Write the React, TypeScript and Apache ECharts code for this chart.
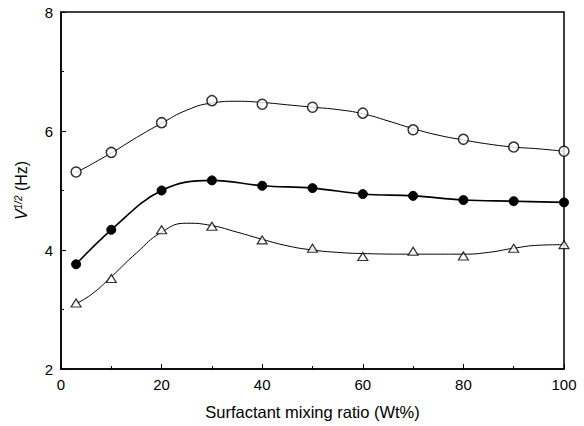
import React, { useEffect, useRef } from "react";
import * as echarts from "echarts";

const xValues = [3, 10, 20, 30, 40, 50, 60, 70, 80, 90, 100];
const openCircle = [5.31, 5.64, 6.14, 6.51, 6.45, 6.4, 6.3, 6.02, 5.86, 5.73, 5.66];
const filledCircle = [3.76, 4.34, 5.0, 5.17, 5.08, 5.04, 4.94, 4.91, 4.84, 4.82, 4.8];
const triangle = [3.11, 3.52, 4.34, 4.4, 4.17, 4.03, 3.89, 3.98, 3.9, 4.03, 4.09];

// fitted curves
const openFitX = [3, 10, 15, 20, 25, 30, 35, 40, 45, 50, 55, 60, 65, 70, 75, 80, 85, 90, 95, 100];
const openFitY = [5.3, 5.63, 5.89, 6.13, 6.35, 6.47, 6.5, 6.48, 6.44, 6.4, 6.36, 6.29, 6.17, 6.04, 5.93, 5.85, 5.78, 5.73, 5.7, 5.66];
const triFitX = [3, 6, 10, 15, 20, 25, 30, 35, 40, 45, 50, 55, 60, 70, 80, 85, 90, 95, 100];
const triFitY = [3.1, 3.25, 3.55, 3.95, 4.3, 4.45, 4.41, 4.3, 4.18, 4.07, 4.0, 3.96, 3.94, 3.93, 3.93, 3.96, 4.03, 4.08, 4.09];

const xTicks = [0, 20, 40, 60, 80, 100];
const yTicks = [2, 4, 6, 8];

const FONT = "Liberation Sans";

export default function App() {
  const ref = useRef<HTMLDivElement>(null);
  useEffect(() => {
    if (!ref.current) return;
    const chart = echarts.init(ref.current, undefined, { renderer: "svg" });
    const pairs = (xs: number[], ys: number[]) => xs.map((x, i) => [x, ys[i]]);
    chart.setOption({
      animation: false,
      backgroundColor: "#fff",
      grid: {
        left: 61,
        top: 12,
        right: 20,
        bottom: 57,
        show: true,
        borderColor: "#000",
        borderWidth: 1.5,
        backgroundColor: "transparent",
      },
      xAxis: {
        type: "value",
        min: xTicks[0],
        max: xTicks[xTicks.length - 1],
        interval: 20,
        name: "Surfactant mixing ratio (Wt%)",
        nameLocation: "middle",
        nameGap: 34,
        nameTextStyle: { fontFamily: FONT, fontSize: 16.5, color: "#000" },
        axisLine: { lineStyle: { color: "#000", width: 1.5 } },
        axisTick: { inside: true, length: 5, lineStyle: { color: "#000", width: 1 } },
        minorTick: { show: true, splitNumber: 2, length: 3, lineStyle: { color: "#000", width: 1 } },
        splitLine: { show: false },
        axisLabel: { fontFamily: FONT, fontSize: 15, color: "#000", margin: 8 },
      },
      yAxis: {
        type: "value",
        min: yTicks[0],
        max: yTicks[yTicks.length - 1],
        interval: 2,
        name: "{i|V}{s|1/2} (Hz)",
        nameLocation: "middle",
        nameRotate: 90,
        nameGap: 31,
        nameTextStyle: {
          fontFamily: FONT,
          fontSize: 16,
          color: "#000",
          rich: {
            i: { fontFamily: FONT, fontSize: 16, fontStyle: "italic", color: "#000" },
            s: { fontFamily: FONT, fontSize: 10, fontStyle: "italic", color: "#000", verticalAlign: "top", padding: [0, 0, 7, 0] },
          },
        },
        axisLine: { lineStyle: { color: "#000", width: 1.5 } },
        axisTick: { inside: true, length: 5, lineStyle: { color: "#000", width: 1 } },
        minorTick: { show: true, splitNumber: 2, length: 3, lineStyle: { color: "#000", width: 1 } },
        splitLine: { show: false },
        axisLabel: { fontFamily: FONT, fontSize: 15, color: "#000", margin: 8 },
      },
      series: [
        {
          type: "line",
          data: pairs(openFitX, openFitY),
          smooth: 0.5,
          showSymbol: false,
          symbol: "none",
          lineStyle: { color: "#000", width: 1 },
          z: 2,
        },
        {
          type: "scatter",
          data: pairs(xValues, openCircle),
          symbol: "circle",
          symbolSize: 10,
          itemStyle: { color: "#fff", borderColor: "#000", borderWidth: 1.5 },
          z: 4,
        },
        {
          type: "line",
          data: pairs(xValues, filledCircle),
          smooth: 0.4,
          symbol: "circle",
          symbolSize: 9,
          itemStyle: { color: "#000", borderColor: "#000", borderWidth: 1 },
          lineStyle: { color: "#000", width: 1.6 },
          z: 3,
        },
        {
          type: "line",
          data: pairs(triFitX, triFitY),
          smooth: 0.5,
          showSymbol: false,
          symbol: "none",
          lineStyle: { color: "#000", width: 1 },
          z: 2,
        },
        {
          type: "scatter",
          data: pairs(xValues, triangle),
          symbol: "triangle",
          symbolSize: [10, 8],
          itemStyle: { color: "#fff", borderColor: "#000", borderWidth: 1.2 },
          z: 4,
        },
      ],
    });
    return () => chart.dispose();
  }, []);
  return <div ref={ref} style={{ width: 584, height: 426, position: "absolute", left: 0, top: 0 }} />;
}
